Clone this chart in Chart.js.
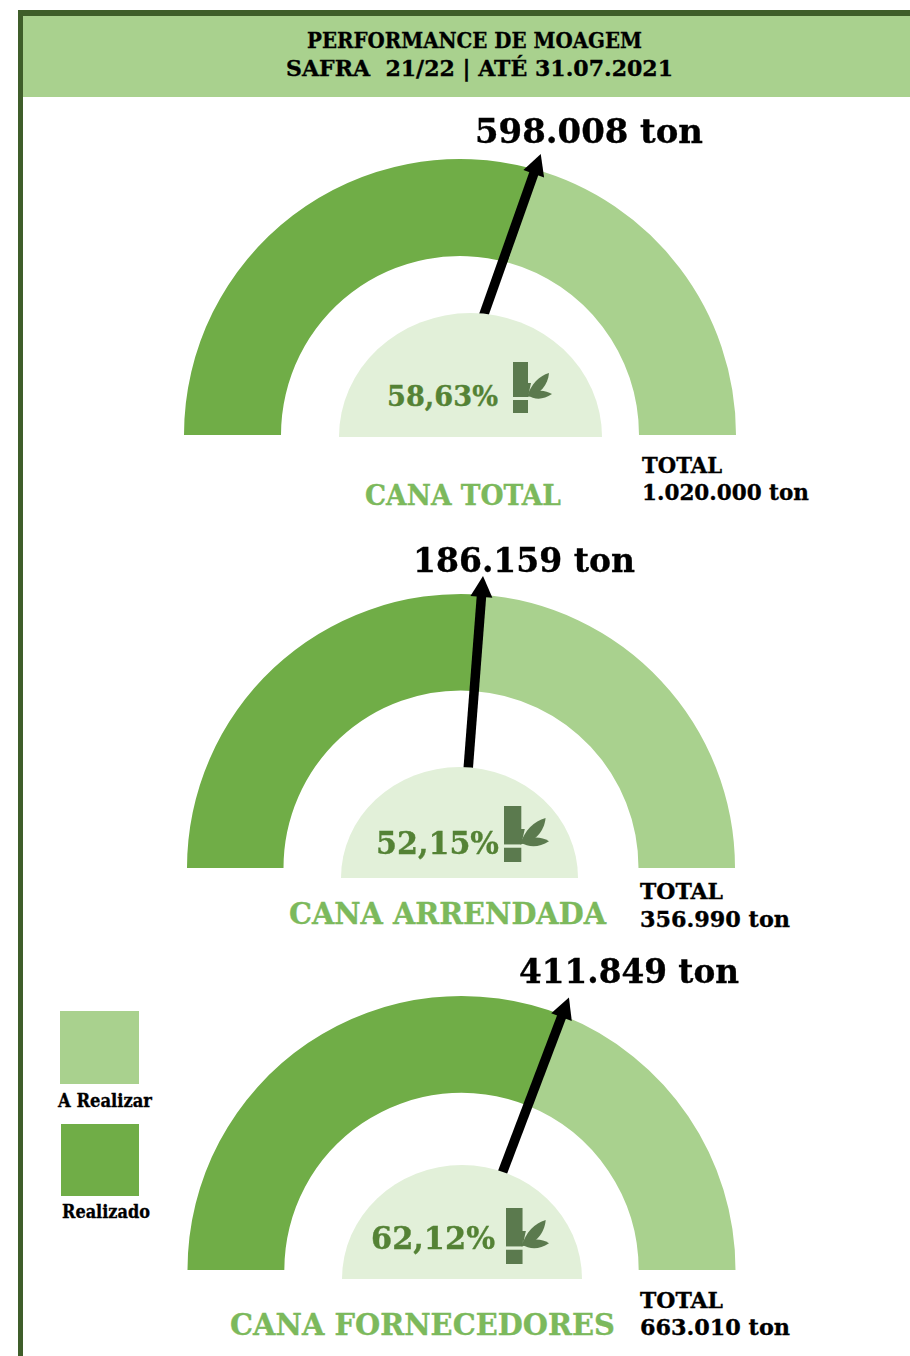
<!DOCTYPE html>
<html lang="pt-BR">
<head>
<meta charset="utf-8">
<title>Performance de Moagem</title>
<script src="https://cdn.jsdelivr.net/npm/chart.js@4"></script>
<style>
html,body{margin:0;padding:0;background:#fff;width:910px;height:1356px;overflow:hidden}
#page{position:relative;width:910px;height:1356px;overflow:hidden;font-family:"DejaVu Serif",serif;font-weight:700;color:#000}
.abs{position:absolute}
.t{position:absolute;white-space:pre;line-height:1;transform-origin:left center;-webkit-text-stroke:0.35px currentColor}
canvas{position:absolute;display:block}
</style>
</head>
<body>
<div id="page"></div>
<script>
// ---- data ----
const gaugeNames   = ['CANA TOTAL', 'CANA ARRENDADA', 'CANA FORNECEDORES'];
const realizedTon  = [598008, 186159, 411849];
const remainingTon = [421992, 170831, 251161];
const realizedText = ['598.008 ton', '186.159 ton', '411.849 ton'];
const totalText    = ['1.020.000 ton', '356.990 ton', '663.010 ton'];
const percentText  = ['58,63%', '52,15%', '62,12%'];
const seriesLabels = ['Realizado', 'A Realizar'];
const titleLines   = ['PERFORMANCE DE MOAGEM', 'SAFRA  21/22 | ATÉ 31.07.2021'];

// ---- palette ----
const DARK = '#70AD47', LIGHT = '#A9D18E', PALE = '#E2F0D9', FRAME = '#3F5E2A',
      PCT = '#548235', ICON = '#5B7A4E', NAME = '#7CB95C';

// ---- layout ----
const layout = [
  {cx:460, base:435, r:276, hole:179, tail:[23,-118], tipGap:16.4, tipTurn:0.5,
   pale:[339,313,602,437], val:[475,228,131,33], pct:[387,111,397,28],
   icon:[513,362,39,51], name:[365,196,496,28],
   tot:[642,465,80,492,167]},
  {cx:461, base:868, r:274, hole:177.5, tail:[7,-97], tipGap:18.8, tipTurn:0.45,
   pale:[341,767,578,878], val:[413,222,560,33], pct:[376,123,843,31],
   icon:[504,806,45,56], name:[289,317,914,30],
   tot:[640,891,83,919,150]},
  {cx:461.5, base:1270, r:274.5, hole:177.5, tail:[40,-95], tipGap:19, tipTurn:-0.3,
   pale:[342,1165,582,1279], val:[519,220,971,33], pct:[371,124,1238,31],
   icon:[506,1208,43,56], name:[230,385,1325,30],
   tot:[640,1300,83,1327,150]}
];
const HEAD_ROOM = 40;

const page = document.getElementById('page');
function box(x,y,w,h,bg,extra){
  const d=document.createElement('div');d.className='abs';
  d.style.cssText=`left:${x}px;top:${y}px;width:${w}px;height:${h}px;background:${bg};`+(extra||'');
  page.appendChild(d);return d;
}
function text(str,left,width,cy,size,color){
  const s=document.createElement('span');s.className='t';s.textContent=str;
  s.style.left=left+'px';s.style.fontSize=size+'px';s.style.color=color||'#000';
  s.style.top=(cy-size/2)+'px';
  page.appendChild(s);
  s.style.transform=`scaleX(${width/s.getBoundingClientRect().width})`;
  return s;
}

// frame and header
box(18,10,892,6,FRAME);
box(18,10,5,1346,FRAME);
box(23,16,887,81,LIGHT);
text(titleLines[0],307,335,40,22);
text(titleLines[1],286,387,68,22);

// arrow drawn from the arc's own end angle
const arrowPlugin = {
  id:'arrow',
  afterDatasetsDraw(chart,args,opts){
    const arc=chart.getDatasetMeta(0).data[0];
    const {x,y,outerRadius,endAngle}=arc.getProps(['x','y','outerRadius','endAngle'],true);
    const R=outerRadius+opts.tipGap, ang=endAngle+opts.tipTurn*Math.PI/180;
    const tip=[x+R*Math.cos(ang),y+R*Math.sin(ang)];
    const tail=[x+opts.tail[0],y+opts.tail[1]];
    const a=Math.atan2(tip[1]-tail[1],tip[0]-tail[0]);
    const c=chart.ctx,hl=opts.headLen,hw=opts.headWidth/2;
    const neck=[tip[0]-hl*Math.cos(a),tip[1]-hl*Math.sin(a)];
    c.save();
    c.strokeStyle='#000';c.fillStyle='#000';c.lineWidth=opts.width;
    c.beginPath();c.moveTo(tail[0],tail[1]);c.lineTo(tip[0]-(hl-2)*Math.cos(a),tip[1]-(hl-2)*Math.sin(a));c.stroke();
    c.beginPath();c.moveTo(tip[0],tip[1]);
    c.lineTo(neck[0]-hw*Math.sin(a),neck[1]+hw*Math.cos(a));
    c.lineTo(neck[0]+hw*Math.sin(a),neck[1]-hw*Math.cos(a));
    c.closePath();c.fill();
    c.restore();
  }
};

layout.forEach((g,i)=>{
  const cv=document.createElement('canvas');
  const W=2*g.r,H=g.r+HEAD_ROOM;
  cv.width=W;cv.height=H;
  cv.style.cssText=`left:${g.cx-g.r}px;top:${g.base-H}px;width:${W}px;height:${H}px`;
  page.appendChild(cv);
  new Chart(cv,{
    type:'doughnut',
    plugins:[arrowPlugin],
    data:{labels:seriesLabels,datasets:[{
      data:[realizedTon[i],remainingTon[i]],
      backgroundColor:[DARK,LIGHT],borderWidth:0,hoverOffset:0
    }]},
    options:{
      responsive:false,animation:false,
      rotation:-90,circumference:180,
      cutout:(g.hole/g.r*100)+'%',
      layout:{padding:{top:HEAD_ROOM,left:0,right:0,bottom:0}},
      plugins:{legend:{display:false},tooltip:{enabled:false},
        arrow:{tipGap:g.tipGap,tipTurn:g.tipTurn,tail:[g.tail[0],g.tail[1]],width:9.5,headLen:21,headWidth:22}}
    }
  });

  const [x0,y0,x1,y1]=g.pale;
  box(x0,y0,x1-x0,y1-y0,PALE,'border-radius:50% 50% 0 0 / 100% 100% 0 0;');

  text(realizedText[i],g.val[0],g.val[1],g.val[2],g.val[3]);
  text(percentText[i],g.pct[0],g.pct[1],g.pct[2],g.pct[3],PCT);
  text(gaugeNames[i],g.name[0],g.name[1],g.name[2],g.name[3],NAME);
  text('TOTAL',g.tot[0],g.tot[2],g.tot[1],22);
  text(totalText[i],g.tot[0],g.tot[4],g.tot[3],22);

  const [ix,iy,iw,ih]=g.icon;
  const holder=box(ix,iy,iw,ih,'transparent');
  holder.innerHTML=`<svg width="${iw}" height="${ih}" viewBox="0 0 39 51" preserveAspectRatio="none" style="display:block"><g fill="${ICON}">
    <rect x="0" y="0" width="15" height="35"/><rect x="0" y="38" width="15" height="13"/>
    <path d="M14 21L18 21L15 35Z"/>
    <path d="M14 35C18 22 26 14 36 11C35 23 27 33 14 35Z"/><path d="M14 33C24 27 32 28 39 32C30 38 22 38 14 33Z"/></g></svg>`;
});

// legend
box(60,1011,79,73,LIGHT);
box(61,1124,78,72,DARK);
text(seriesLabels[1],58,94,1101,18);
text(seriesLabels[0],62,88,1212,18);
</script>
</body>
</html>
